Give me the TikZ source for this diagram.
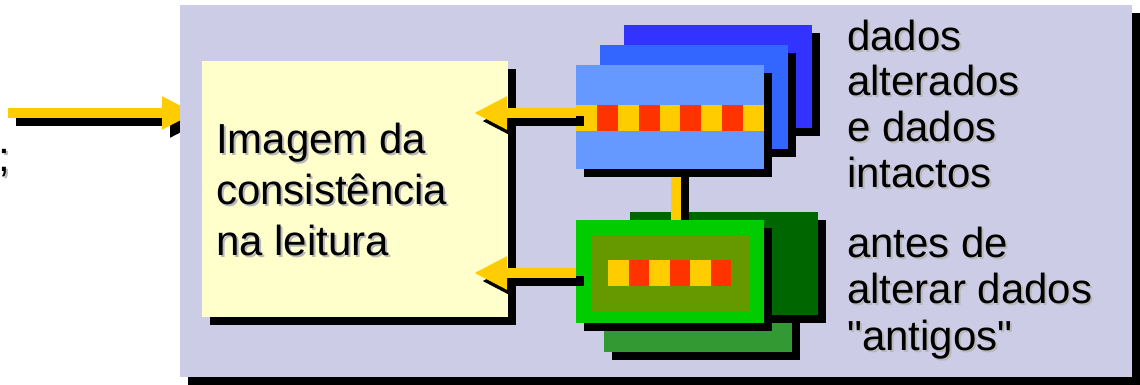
\documentclass[tikz,border=0pt]{standalone}
\usepackage{fontspec}
\setmainfont{Liberation Sans}[Ligatures=TeXOff]
\usetikzlibrary{arrows.meta,shadows}
\definecolor{panelc}{RGB}{204,204,230}
\definecolor{paleyel}{RGB}{255,255,204}
\definecolor{arrowyel}{RGB}{255,204,0}
\definecolor{cellred}{RGB}{255,51,0}
\definecolor{blueA}{RGB}{51,51,255}
\definecolor{blueB}{RGB}{51,102,255}
\definecolor{blueC}{RGB}{102,153,255}
\definecolor{greenA}{RGB}{0,102,0}
\definecolor{greenB}{RGB}{51,153,51}
\definecolor{greenC}{RGB}{0,204,0}
\definecolor{oliveC}{RGB}{102,153,0}
\tikzset{
  sbox/.style={draw=none, inner sep=0pt, anchor=north west,
    drop shadow={shadow xshift=8pt, shadow yshift=-8pt, opacity=1, fill=black}},
  pbox/.style={draw=none, inner sep=0pt, anchor=north west},
  conn/.style={line width=10pt, arrowyel},
  connshadow/.style={line width=10pt, black, transform canvas={shift={(8pt,-8pt)}}},
  tipped/.style={-{Triangle[length=33pt,width=31pt]}},
  ltxt/.style={inner sep=0pt, anchor=base west, font=\fontsize{42}{51}\selectfont},
  rtxtA/.style={inner sep=0pt, anchor=base west, font=\fontsize{42}{45.7}\selectfont},
  rtxtB/.style={inner sep=0pt, anchor=base west, font=\fontsize{42}{46.5}\selectfont},
}
\newcommand{\shadowtext}[4]{%
  \node[#2, text=black!28] at ([shift={(2pt,-2pt)}]#3) {\begin{tabular}[t]{@{}l@{}}#4\end{tabular}};
  \node[#2] (#1) at (#3) {\begin{tabular}[t]{@{}l@{}}#4\end{tabular}};}
\begin{document}
\begin{tikzpicture}[x=1pt,y=-1pt]
\useasboundingbox (0,0) rectangle (1140,384);

% cut-off semicolon at the left border
\node[ltxt, text=black!28] at (0,173) {;};
\node[ltxt] (semi) at (-2,171) {;};

% incoming arrow (tip hidden by the panel)
\coordinate (inStart) at (8,113);
\coordinate (inTip) at (195,113);
\draw[connshadow, tipped] (inStart) -- (inTip);
\draw[conn, tipped] (inStart) -- (inTip);

% panel
\node[sbox, fill=panelc, minimum width=952pt, minimum height=372pt] (panel) at (180,5) {};

% image box
\node[sbox, fill=paleyel, minimum width=306pt, minimum height=256pt] (imgbox) at (202,61) {};
\shadowtext{imgtext}{ltxt}{216,153}{Imagem da\\consistência\\na leitura}

% back boxes
\node[sbox, fill=blueA, minimum width=188pt, minimum height=103pt] (blue3) at (624,25) {};
\node[sbox, fill=blueB, minimum width=188pt, minimum height=104pt] (blue2) at (600,45) {};
\node[sbox, fill=greenB, minimum width=188pt, minimum height=104pt] (green2) at (604,248) {};
\node[sbox, fill=greenA, minimum width=188pt, minimum height=103pt] (green3) at (630,212) {};

% front boxes (placed now so the vertical connector can refer to them)
\coordinate (vx) at (676,0);
\path (576,65) coordinate (b1nw) (576,220) coordinate (g1nw);
\node[pbox, minimum width=188pt, minimum height=104pt] (blue1ref) at (b1nw) {};
\node[pbox, minimum width=188pt, minimum height=103pt] (green1ref) at (g1nw) {};
\draw[connshadow] (blue1ref.south -| vx) -- (green1ref.north -| vx);
\draw[conn] (blue1ref.south -| vx) -- (green1ref.north -| vx);

\node[sbox, fill=blueC, minimum width=188pt, minimum height=104pt] (blue1) at (b1nw) {};
\foreach \i in {0,...,8}{
  \ifodd\i \def\cc{cellred}\else\def\cc{arrowyel}\fi
  \fill[\cc] ({576+\i*20.889},105) rectangle ({576+(\i+1)*20.889},131);
}
\node[sbox, fill=greenC, minimum width=188pt, minimum height=103pt] (green1) at (g1nw) {};
\node[pbox, fill=oliveC, minimum width=158pt, minimum height=76pt] (inner) at (591,235) {};
\foreach \i in {0,...,5}{
  \ifodd\i \def\cc{cellred}\else\def\cc{arrowyel}\fi
  \fill[\cc] ({608+\i*20.5},260) rectangle ({608+(\i+1)*20.5},286);
}

% arrows into the image box
\coordinate (t1) at (474,113);
\coordinate (t2) at (474,273);
\draw[connshadow, tipped] (blue1.west |- t1) -- (t1);
\draw[conn, tipped] (blue1.west |- t1) -- (t1);
\draw[connshadow, tipped] (green1.west |- t2) -- (t2);
\draw[conn, tipped] (green1.west |- t2) -- (t2);

% labels
\shadowtext{lblA}{rtxtA}{847,50}{dados\\alterados\\e dados\\intactos}
\shadowtext{lblB}{rtxtB}{847,257}{antes de\\alterar dados\\"antigos"}
\end{tikzpicture}
\end{document}
